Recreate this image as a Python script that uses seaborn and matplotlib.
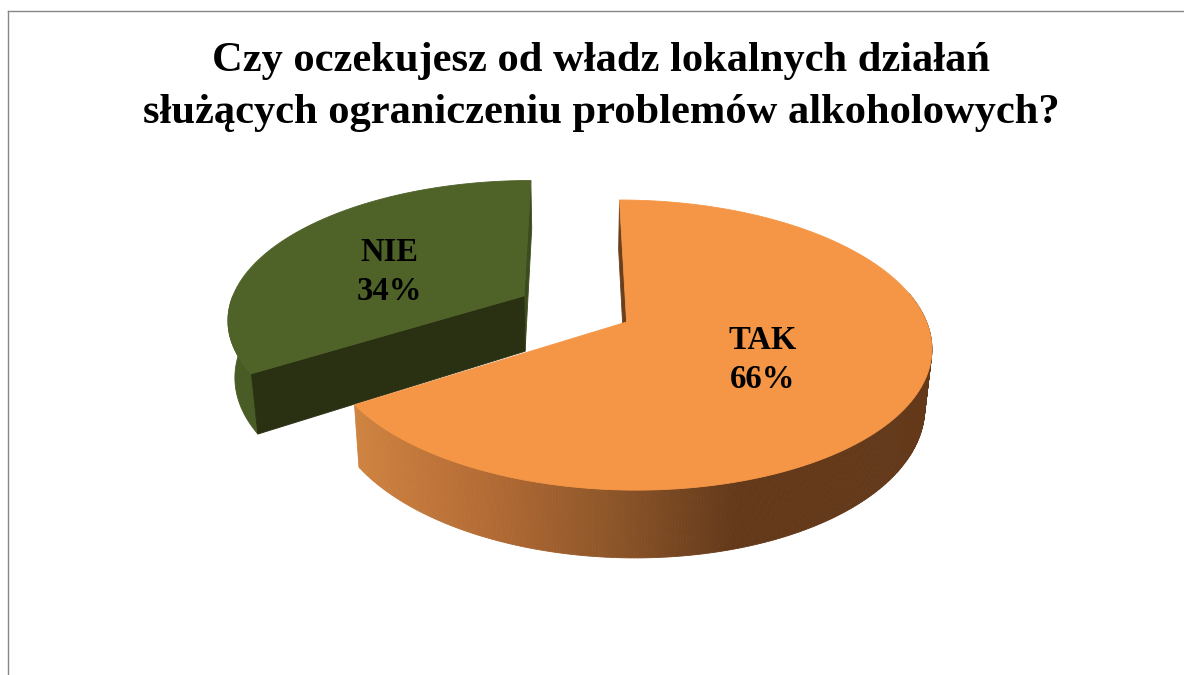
import numpy as np
import matplotlib
matplotlib.use("Agg")
import matplotlib.pyplot as plt
import seaborn as sns

title = "Czy oczekujesz od władz lokalnych działań\nsłużących ograniczeniu problemów alkoholowych?"
labels = ["TAK", "NIE"]
values = [66, 34]

ORANGE = "#F59646"
GREEN = "#4F6228"
GREEN_SIDE = "#4A5C26"
GREEN_WALL = "#2A3012"
TAK_WALL = "#6B3F1C"

# perspective used for the flat pie: far side gets smaller
VANISH_X, HORIZON_Y = 575, 322
SCALE_X, SCALE_Y = 300, 141.4
TILT = 0.159
DEPTH = 57
SQUEEZE = 0.98
START_ANGLE = 90


def project(x, v, lower=False):
    w = 1 + TILT * v
    px = x / w * SCALE_X
    py = HORIZON_Y - SCALE_Y * v / w
    if lower:
        return VANISH_X + px * SQUEEZE, py + DEPTH / w
    return VANISH_X + px, py


def rim(center, a0, a1, lower=False, n=160):
    t = np.radians(np.linspace(a0, a1, n))
    return project(center[0] + np.cos(t), center[1] + np.sin(t), lower)


def fill_quad(ax, xs, ys, color, zorder):
    ax.fill(xs, ys, color=color, lw=0.6, zorder=zorder)


sns.set_theme(style="white")
plt.rcParams["font.family"] = ["Liberation Serif", "DejaVu Serif"]

fig = plt.figure(figsize=(11.84, 6.75), dpi=100)
ax = fig.add_axes([8 / 1184, 0, 1 - 8 / 1184, 1 - 11 / 675])
ax.set_xlim(8, 1184)
ax.set_ylim(675, 11)
ax.set_xticks([])
ax.set_yticks([])
for side in ["right", "bottom"]:
    ax.spines[side].set_visible(False)
for side in ["left", "top"]:
    ax.spines[side].set_color("#868686")
    ax.spines[side].set_linewidth(1.0)

sweep = 360 * np.array(values) / sum(values)
tak_from, tak_to = START_ANGLE, START_ANGLE - sweep[0]
nie_from, nie_to = START_ANGLE, START_ANGLE + sweep[1]

# NIE slice, pulled away to the upper left
nie_c = (-0.175, 0.19)
nie_ax, nie_ay = project(*nie_c)
nie_bx, nie_by = project(*nie_c, lower=True)
top_x, top_y = rim(nie_c, nie_from, nie_to)
low_x, low_y = rim(nie_c, nie_from, nie_to, lower=True)

side_keep = np.radians(np.linspace(nie_to, 180, 60))
sx, sy = project(nie_c[0] + np.cos(side_keep), nie_c[1] + np.sin(side_keep))
lx, ly = project(nie_c[0] + np.cos(side_keep), nie_c[1] + np.sin(side_keep), lower=True)
fill_quad(ax, np.r_[sx, lx[::-1]], np.r_[sy, ly[::-1]], GREEN_SIDE, 2)

fill_quad(ax, [top_x[0], nie_ax, nie_bx, low_x[0]],
          [top_y[0], nie_ay, nie_by, low_y[0]], "#3D4C1E", 2)
fill_quad(ax, [top_x[-1], nie_ax, nie_bx, low_x[-1]],
          [top_y[-1], nie_ay, nie_by, low_y[-1]], GREEN_WALL, 3)
fill_quad(ax, np.r_[nie_ax, top_x], np.r_[nie_ay, top_y], GREEN, 4)

# TAK slice
tak_c = (0.172, 0.0)
tak_ax, tak_ay = project(*tak_c)
tak_bx, tak_by = project(*tak_c, lower=True)
top_x, top_y = rim(tak_c, tak_to, tak_from)
low_x, low_y = rim(tak_c, tak_to, tak_from, lower=True)

fill_quad(ax, [top_x[-1], tak_ax, tak_bx, low_x[-1]],
          [top_y[-1], tak_ay, tak_by, low_y[-1]], TAK_WALL, 5)

# outer wall of the slice, shaded from left to right
shades = sns.blend_palette(["#CF8340", "#B56C35", "#8E5629", "#63391A", "#63391A"], n_colors=256)
x_lo, x_hi = top_x.min(), top_x.min() + 510
steps = np.linspace(tak_to, 12, 320)
for a0, a1 in zip(steps[:-1], steps[1:]):
    xs0, ys0 = rim(tak_c, a0, a1, n=2)
    xs1, ys1 = rim(tak_c, a0, a1, lower=True, n=2)
    pos = (xs0.mean() - x_lo) / (x_hi - x_lo)
    col = shades[int(np.clip(pos, 0, 1) * 255)]
    fill_quad(ax, np.r_[xs0, xs1[::-1]], np.r_[ys0, ys1[::-1]], col, 6)

fill_quad(ax, np.r_[tak_ax, top_x], np.r_[tak_ay, top_y], ORANGE, 7)

ax.text(601, 87, title, ha="center", va="center", fontsize=30.6,
        fontweight="bold", color="black", linespacing=1.45, zorder=10)
ax.text(763, 360, f"{labels[0]}\n{values[0]}%", ha="center", va="center", fontsize=23.5,
        fontweight="bold", color="black", linespacing=1.3, zorder=10)
ax.text(389, 272, f"{labels[1]}\n{values[1]}%", ha="center", va="center", fontsize=23.5,
        fontweight="bold", color="black", linespacing=1.3, zorder=10)

fig.savefig("out.png", dpi=100, facecolor="white")
